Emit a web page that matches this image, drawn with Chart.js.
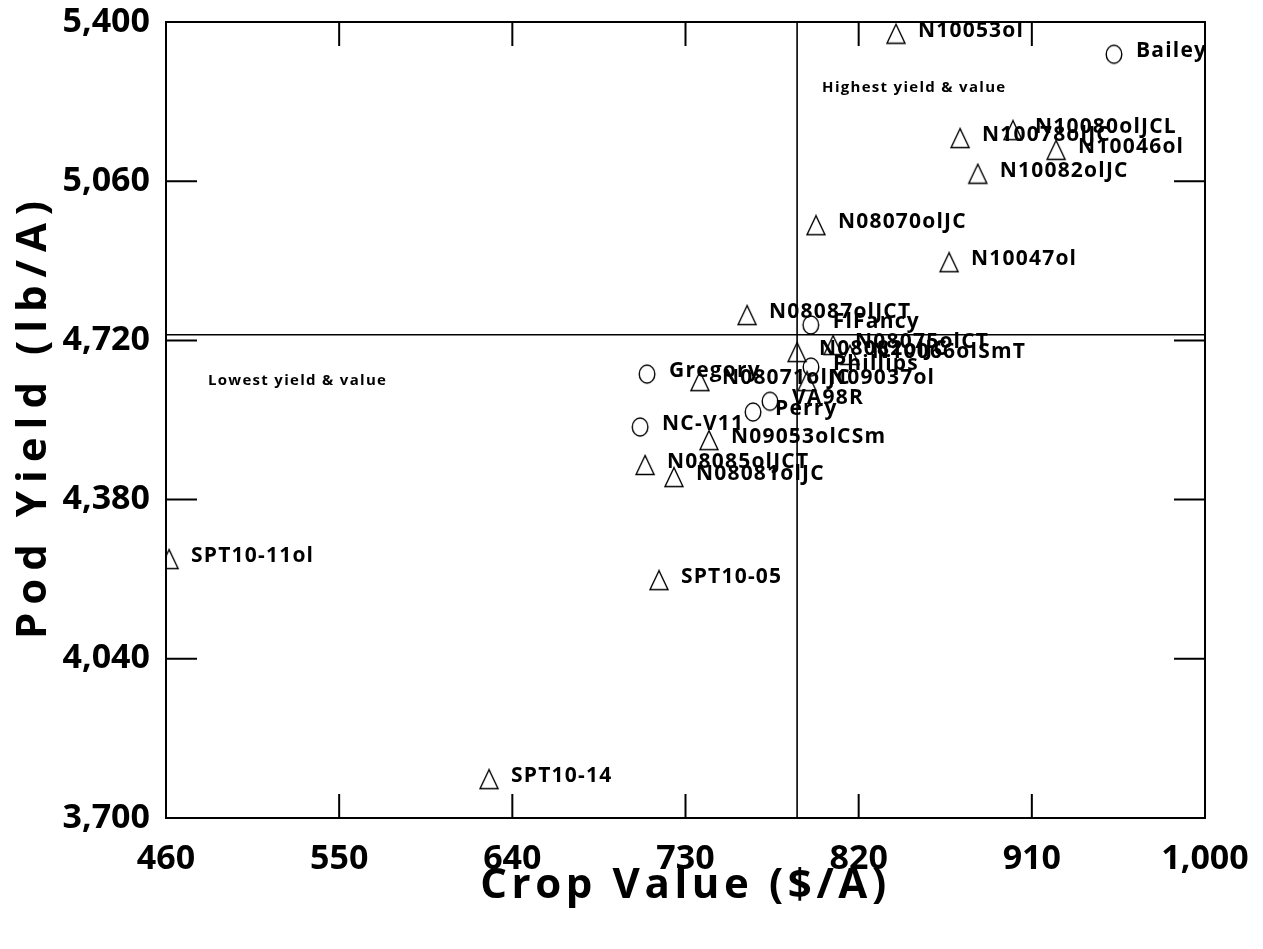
<!DOCTYPE html>
<html>
<head>
<meta charset="utf-8">
<script src="https://cdn.jsdelivr.net/npm/chart.js@4.4.1/dist/chart.umd.min.js"></script>
<style>
  html, body { margin: 0; padding: 0; background: #fff; }
  #wrap { width: 1263px; height: 949px; }
</style>
</head>
<body>
<div id="wrap"><canvas id="chart" width="1263" height="949"></canvas></div>
<script>
// axis ticks
const xTicks = [460, 550, 640, 730, 820, 910, 1000];
const yTicks = [3700, 4040, 4380, 4720, 5060, 5400];

// released cultivars (circles)
const cultivarNames = ['Bailey', 'FlFancy', 'Phillips', 'Gregory', 'VA98R', 'Perry', 'NC-V11'];
const cultivarValue = [952.7, 795.1, 795.2, 710.0, 773.9, 765.1, 706.4];
const cultivarYield = [5331, 4753, 4663, 4648, 4590, 4567, 4535];

// breeding lines (triangles)
const lineNames = ['N10053ol', 'N10080olJCL', 'N10078olJC', 'N10046ol', 'N10082olJC', 'N08070olJC',
  'N10047ol', 'N08087olJCT', 'N08075olCT', 'N08082olJC', 'N10066olSmT', 'N09037ol', 'N08071olJC',
  'N09053olCSm', 'N08085olJCT', 'N08081olJC', 'SPT10-11ol', 'SPT10-05', 'SPT10-14'];
const lineValue = [839.4, 900.2, 872.7, 922.6, 881.9, 797.8, 867.0, 762.0, 806.7, 788.0, 815.5, 793.2,
  737.5, 742.2, 709.0, 724.0, 461.6, 716.2, 627.9];
const lineYield = [5375, 5169, 5152, 5127, 5076, 4966, 4887, 4774, 4710, 4695, 4689, 4633, 4633,
  4507, 4454, 4428, 4253, 4208, 3783];

// trial means (cross lines)
const meanValue = 788;
const meanYield = 4732;

const FONT = "'Open Sans', sans-serif";

function triangleMarker() {
    const c = document.createElement('canvas');
    c.width = 22; c.height = 22;
    const g = c.getContext('2d');
    g.strokeStyle = '#000';
    g.lineWidth = 1.4;
    g.beginPath();
    g.moveTo(11, 1.5); g.lineTo(2, 20.5); g.lineTo(20, 20.5);
    g.closePath();
    g.stroke();
    return c;
}

function circleMarker() {
    const c = document.createElement('canvas');
    c.width = 20; c.height = 22;
    const g = c.getContext('2d');
    g.strokeStyle = '#000';
    g.lineWidth = 1.4;
    g.beginPath();
    g.ellipse(10, 11, 7.8, 9, 0, 0, Math.PI * 2);
    g.stroke();
    return c;
}

const toPoints = (xs, ys) => xs.map((x, i) => ({ x, y: ys[i] }));

// frame, inward tick marks and the two mean lines
const framePlugin = {
    id: 'frame',
    afterDatasetsDraw(chart) {
        const { ctx, chartArea: a, scales: { x, y } } = chart;
        ctx.save();
        ctx.strokeStyle = '#000';
        ctx.lineWidth = 1.6;
        ctx.beginPath();
        const mx = x.getPixelForValue(meanValue);
        const my = y.getPixelForValue(meanYield);
        ctx.moveTo(mx, a.top); ctx.lineTo(mx, a.bottom);
        ctx.moveTo(a.left, my); ctx.lineTo(a.right, my);
        ctx.stroke();

        ctx.lineWidth = 2;
        ctx.strokeRect(a.left, a.top, a.right - a.left, a.bottom - a.top);
        ctx.beginPath();
        xTicks.slice(1, -1).forEach(v => {
            const px = x.getPixelForValue(v);
            ctx.moveTo(px, a.bottom); ctx.lineTo(px, a.bottom - 24);
            ctx.moveTo(px, a.top); ctx.lineTo(px, a.top + 24);
        });
        yTicks.slice(1, -1).forEach(v => {
            const py = y.getPixelForValue(v);
            ctx.moveTo(a.left, py); ctx.lineTo(a.left + 31, py);
            ctx.moveTo(a.right, py); ctx.lineTo(a.right - 31, py);
        });
        ctx.stroke();
        ctx.restore();
    }
};

// point names, quadrant notes and axis titles
const textPlugin = {
    id: 'texts',
    afterDraw(chart) {
        const { ctx, chartArea: a, scales: { x, y } } = chart;
        ctx.save();
        ctx.fillStyle = '#000';
        ctx.textAlign = 'left';
        ctx.textBaseline = 'alphabetic';
        ctx.font = `bold 21px ${FONT}`;
        ctx.letterSpacing = '1.2px';
        chart.data.datasets.forEach((ds, di) => {
            const meta = chart.getDatasetMeta(di);
            meta.data.forEach((el, i) => {
                ctx.fillText(ds.names[i], el.x + 22, el.y + 3);
            });
        });

        ctx.font = `bold 15px ${FONT}`;
        ctx.letterSpacing = '1.3px';
        ctx.textBaseline = 'middle';
        ctx.fillText('Highest yield & value', x.getPixelForValue(801), y.getPixelForValue(5259));
        ctx.fillText('Lowest yield & value', x.getPixelForValue(481.8), y.getPixelForValue(4633));

        ctx.font = `bold 42px ${FONT}`;
        ctx.letterSpacing = '4.6px';
        ctx.textAlign = 'center';
        ctx.textBaseline = 'alphabetic';
        ctx.fillText('Crop Value ($/A)', (a.left + a.right) / 2, 898);
        ctx.letterSpacing = '8px';
        ctx.translate(46, (a.top + a.bottom) / 2);
        ctx.rotate(-Math.PI / 2);
        ctx.fillText('Pod Yield (lb/A)', 4, 0);
        ctx.restore();
    }
};

new Chart(document.getElementById('chart'), {
    type: 'scatter',
    data: {
        datasets: [
            {
                label: 'Cultivars',
                names: cultivarNames,
                data: toPoints(cultivarValue, cultivarYield),
                pointStyle: circleMarker(),
                pointRadius: 9
            },
            {
                label: 'Lines',
                names: lineNames,
                data: toPoints(lineValue, lineYield),
                pointStyle: triangleMarker(),
                pointRadius: 10
            }
        ]
    },
    options: {
        responsive: false,
        animation: false,
        layout: { padding: { top: 22, right: 58, left: 0, bottom: 0 } },
        plugins: { legend: { display: false }, tooltip: { enabled: false } },
        scales: {
            x: {
                type: 'linear',
                min: 460, max: 1000,
                afterBuildTicks: s => { s.ticks = xTicks.map(v => ({ value: v })); },
                afterFit: s => { s.height = 131; },
                grid: { display: false, drawTicks: true, tickLength: 21 },
                border: { display: false },
                ticks: {
                    color: '#000',
                    padding: 0,
                    maxRotation: 0,
                    font: { family: FONT, size: 34, weight: 'bold' },
                    callback: v => v.toLocaleString('en-US')
                }
            },
            y: {
                type: 'linear',
                min: 3700, max: 5400,
                afterBuildTicks: s => { s.ticks = yTicks.map(v => ({ value: v })); },
                afterFit: s => { s.width = 166; },
                grid: { display: false, drawTicks: true, tickLength: 16 },
                border: { display: false },
                ticks: {
                    color: '#000',
                    padding: 0,
                    font: { family: FONT, size: 34, weight: 'bold' },
                    callback: v => v.toLocaleString('en-US')
                }
            }
        }
    },
    plugins: [framePlugin, textPlugin]
});
</script>
</body>
</html>
